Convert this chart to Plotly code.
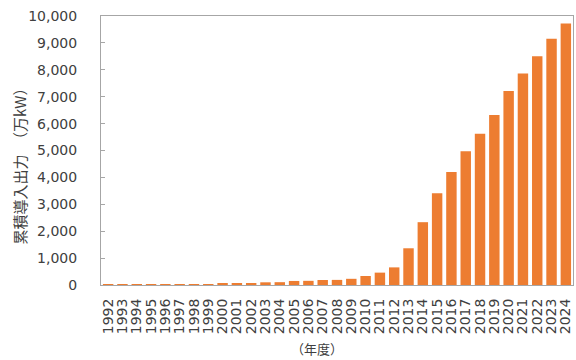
import plotly.graph_objects as go

# Fiscal years and cumulative installed capacity (unit: 10,000 kW)
years = [str(y) for y in range(1992, 2025)]
capacity = [
    30, 30, 30, 30, 30, 35, 35, 35, 40, 45, 55,      # 1992-2002
    100, 105, 150, 155, 187, 190, 230,               # 2003-2009
    335, 460, 655, 1365, 2335, 3415, 4205, 4970,     # 2010-2017
    5625, 6320, 7215, 7860, 8505, 9155, 9725,        # 2018-2024
]

y_ticks = list(range(0, 10001, 1000))
y_tick_text = [f"{v:,}" for v in y_ticks]

y_title = "累積導入出力　（万kW）"
x_title = "（年度）"

bar_color = "#ED7D31"
text_color = "#404040"
axis_color = "#A6A6A6"
cjk_font = "Noto Sans CJK JP"

fig = go.Figure(
    go.Bar(
        x=years,
        y=capacity,
        marker=dict(color=bar_color, line=dict(width=0)),
        hoverinfo="x+y",
    )
)

fig.update_layout(
    width=576,
    height=360,
    margin=dict(l=101, r=3, t=16, b=75),
    paper_bgcolor="white",
    plot_bgcolor="white",
    bargap=0.27,
    showlegend=False,
    font=dict(family="DejaVu Sans, Verdana, sans-serif", color=text_color),
)

fig.update_xaxes(
    type="category",
    tickmode="array",
    tickvals=years,
    ticktext=years,
    tickangle=-90,
    tickfont=dict(size=14, color=text_color),
    ticklabelstandoff=7,
    showline=True,
    linecolor=axis_color,
    linewidth=1,
    mirror=True,
    ticks="",
    showgrid=False,
)

fig.update_yaxes(
    range=[0, 10000],
    tickvals=y_ticks,
    ticktext=y_tick_text,
    tickfont=dict(size=14, color=text_color),
    ticks="inside",
    ticklen=4,
    tickcolor=axis_color,
    ticklabelstandoff=20,
    showline=True,
    linecolor=axis_color,
    linewidth=1,
    mirror=True,
    showgrid=False,
    zeroline=False,
)

# Axis titles placed as annotations relative to the plot area
fig.add_annotation(
    text=y_title,
    textangle=-90,
    xref="paper", yref="paper",
    x=-0.172, y=0.455,
    xanchor="center", yanchor="middle",
    showarrow=False,
    font=dict(family=cjk_font, size=15, color=text_color),
)
fig.add_annotation(
    text=x_title,
    xref="paper", yref="paper",
    x=0.458, y=-0.237,
    xanchor="center", yanchor="middle",
    showarrow=False,
    font=dict(family=cjk_font, size=13, color=text_color),
)

fig.write_html("out.html")
